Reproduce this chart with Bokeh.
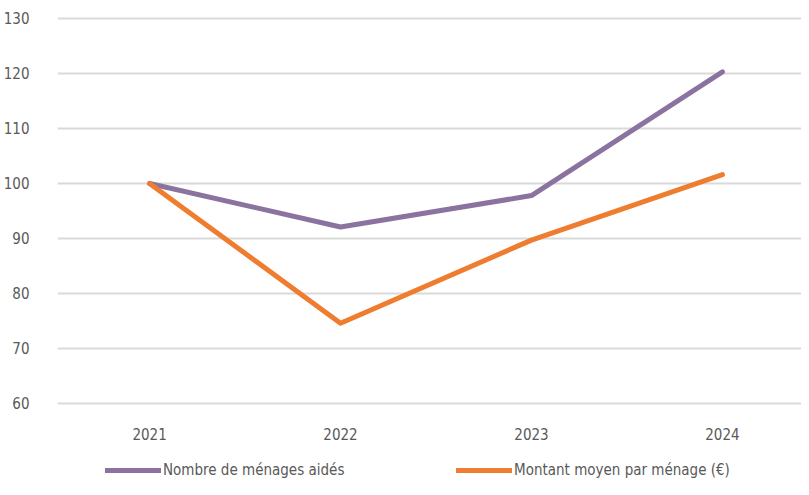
from bokeh.plotting import figure
from bokeh.models import Range1d, FixedTicker, Legend, LegendItem
from bokeh.core.properties import value
from bokeh.embed import file_html
from bokeh.resources import INLINE

years = ["2021", "2022", "2023", "2024"]
menages = [100, 92.1, 97.8, 120.3]
montant = [100, 74.6, 89.7, 101.6]
y_ticks = [60, 70, 80, 90, 100, 110, 120, 130]
series_names = ["Nombre de ménages aidés", "Montant moyen par ménage (€)"]
colors = ["#8B73A0", "#EE7D30"]

FONT = "DejaVu Sans Condensed"
TXT = "#595959"

x = list(range(len(years)))

# y range extends below 60 to leave room (inside the frame) for year labels and legend
p = figure(frame_width=744, frame_height=479, output_backend="svg", toolbar_location=None,
           x_range=Range1d(-0.482, 3.414), y_range=Range1d(46.18, 133.27),
           min_border_left=49, min_border_right=0, min_border_top=0, min_border_bottom=0)
p.outline_line_color = None
p.background_fill_color = "white"
p.border_fill_color = "white"

r1 = p.line(x, menages, line_color=colors[0], line_width=5, line_cap="round", line_join="round")
r2 = p.line(x, montant, line_color=colors[1], line_width=5, line_cap="round", line_join="round")

# category labels under the 60 gridline
label_y = 54.5
p.text(x=x, y=[label_y] * len(x), text=years, text_font=value(FONT), text_font_size="15px",
       text_color=TXT, text_align="center", text_baseline="middle")

p.xaxis.visible = False
p.yaxis.ticker = FixedTicker(ticks=y_ticks)
p.yaxis.axis_line_color = None
p.yaxis.major_tick_line_color = None
p.yaxis.minor_tick_line_color = None
p.yaxis.major_label_text_font = FONT
p.yaxis.major_label_text_font_size = "15px"
p.yaxis.major_label_text_color = TXT
p.yaxis.major_label_standoff = 22

p.xgrid.grid_line_color = None
p.ygrid.ticker = FixedTicker(ticks=y_ticks)
p.ygrid.grid_line_color = "#D9D9D9"
p.ygrid.grid_line_width = 2

legend = Legend(items=[LegendItem(label=series_names[0], renderers=[r1]),
                       LegendItem(label=series_names[1], renderers=[r2])],
                orientation="horizontal", location=(48, 0),
                label_text_font=FONT, label_text_font_size="15px", label_text_color=TXT,
                glyph_width=56, glyph_height=8, label_height=8, label_width=293,
                label_standoff=2, spacing=0,
                padding=0, margin=0, border_line_color=None, background_fill_alpha=0)
p.add_layout(legend, "center")

open("out.html", "w").write(file_html(p, INLINE))
